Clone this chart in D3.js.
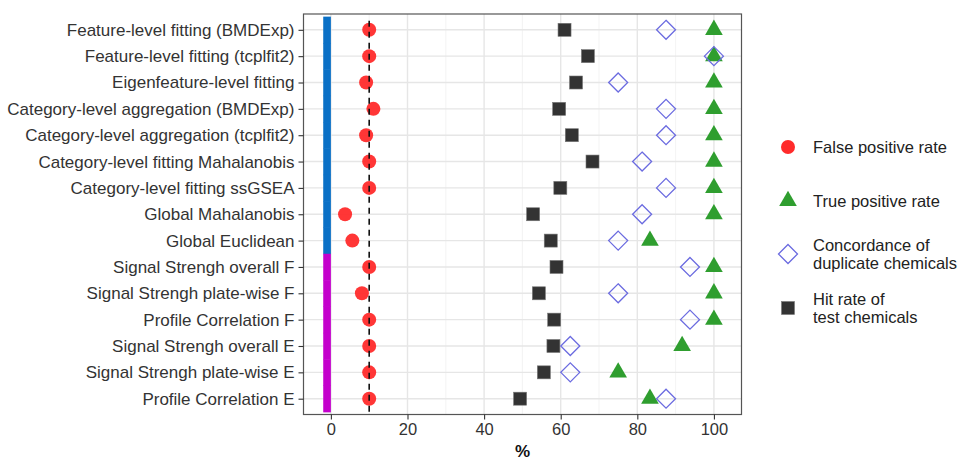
<!DOCTYPE html>
<html>
<head>
<meta charset="utf-8">
<script src="https://cdn.jsdelivr.net/npm/d3@7"></script>
<style>
  body { margin: 0; background: #fff; }
  text { font-family: "Liberation Sans", Arial, sans-serif; }
</style>
</head>
<body>
<svg id="chart" width="963" height="460"></svg>
<script>
const methods = [
  'Feature-level fitting (BMDExp)',
  'Feature-level fitting (tcplfit2)',
  'Eigenfeature-level fitting',
  'Category-level aggregation (BMDExp)',
  'Category-level aggregation (tcplfit2)',
  'Category-level fitting Mahalanobis',
  'Category-level fitting ssGSEA',
  'Global Mahalanobis',
  'Global Euclidean',
  'Signal Strengh overall F',
  'Signal Strengh plate-wise F',
  'Profile Correlation F',
  'Signal Strengh overall E',
  'Signal Strengh plate-wise E',
  'Profile Correlation E'
];
const groupOf = ['A','A','A','A','A','A','A','A','A','B','B','B','B','B','B'];
const falsePositive = [10, 10, 9.2, 11.1, 9.2, 10, 10, 3.7, 5.6, 10, 8.1, 10, 10, 10, 10];
const truePositive = [100, 100, 100, 100, 100, 100, 100, 100, 83.3, 100, 100, 100, 91.7, 75, 83.3];
const concordance = [87.5, 100, 75, 87.5, 87.5, 81.25, 87.5, 81.25, 75, 93.75, 75, 93.75, 62.5, 62.5, 87.5];
const hitRate = [61.0, 67.1, 64.0, 59.6, 62.9, 68.3, 59.9, 52.8, 57.4, 58.9, 54.3, 58.3, 58.1, 55.6, 49.4];
const xTicks = [0, 20, 40, 60, 80, 100];
const xMinor = [10, 30, 50, 70, 90];
const threshold = 10;
const legendLabels = [
  ['False positive rate'],
  ['True positive rate'],
  ['Concordance of', 'duplicate chemicals'],
  ['Hit rate of', 'test chemicals']
];

const pLeft = 303.5, pRight = 741.5, pTop = 14, pBottom = 414.5;
const svg = d3.select('#chart');

const x = d3.scaleLinear()
  .domain([-7.15, 107.2])
  .range([pLeft, pRight]);

const y = d3.scalePoint()
  .domain(methods)
  .range([pTop, pBottom])
  .padding(0.6);
const step = y.step();

// grid
const grid = svg.append('g');
grid.selectAll('.minor').data(xMinor).enter().append('line')
  .attr('x1', d => x(d)).attr('x2', d => x(d))
  .attr('y1', pTop).attr('y2', pBottom)
  .attr('stroke', '#f0f0f0').attr('stroke-width', 0.8);
grid.selectAll('.major').data(xTicks).enter().append('line')
  .attr('x1', d => x(d)).attr('x2', d => x(d))
  .attr('y1', pTop).attr('y2', pBottom)
  .attr('stroke', '#e6e6e6').attr('stroke-width', 1.4);
grid.selectAll('.hmajor').data(methods).enter().append('line')
  .attr('x1', pLeft).attr('x2', pRight)
  .attr('y1', d => y(d)).attr('y2', d => y(d))
  .attr('stroke', '#e6e6e6').attr('stroke-width', 1.4);

// group bars
const groupColor = { A: '#0a70c6', B: '#c400cc' };
svg.append('g').selectAll('rect').data(methods).enter().append('rect')
  .attr('x', x(-2))
  .attr('width', x(0) - x(-2))
  .attr('y', d => y(d) - step / 2)
  .attr('height', step + 0.5)
  .attr('fill', (d, i) => groupColor[groupOf[i]]);

// hit rate squares
svg.append('g').selectAll('rect').data(methods).enter().append('rect')
  .attr('x', (d, i) => x(hitRate[i]) - 6.5)
  .attr('y', d => y(d) - 6.5)
  .attr('width', 13).attr('height', 13)
  .attr('fill', '#333333')
  .attr('stroke', '#777').attr('stroke-width', 0.6);

// true positive triangles
const tri = d3.symbol().type(d3.symbolTriangle).size(135);
svg.append('g').selectAll('path').data(methods).enter().append('path')
  .attr('d', tri)
  .attr('transform', (d, i) => `translate(${x(truePositive[i])},${y(d)})`)
  .attr('fill', '#2f9e2f');

// concordance diamonds
const diamond = 'M0,-9.5L9.5,0L0,9.5L-9.5,0Z';
svg.append('g').selectAll('path').data(methods).enter().append('path')
  .attr('d', diamond)
  .attr('transform', (d, i) => `translate(${x(concordance[i])},${y(d)})`)
  .attr('fill', 'none')
  .attr('stroke', '#6b6be0').attr('stroke-width', 1.3);

// false positive circles
svg.append('g').selectAll('circle').data(methods).enter().append('circle')
  .attr('cx', (d, i) => x(falsePositive[i]))
  .attr('cy', d => y(d))
  .attr('r', 7)
  .attr('fill', '#ff2b2b')
  .attr('fill-opacity', 0.95);

// threshold line
svg.append('line')
  .attr('x1', x(threshold)).attr('x2', x(threshold))
  .attr('y1', y(methods[0]) - step / 2 + 4)
  .attr('y2', y(methods[methods.length - 1]) + step / 2)
  .attr('stroke', '#111').attr('stroke-width', 1.6)
  .attr('stroke-dasharray', '6,5');

// panel border
svg.append('rect')
  .attr('x', pLeft).attr('y', pTop)
  .attr('width', pRight - pLeft).attr('height', pBottom - pTop)
  .attr('fill', 'none').attr('stroke', '#555').attr('stroke-width', 1.2);

// axes
const xAxis = svg.append('g')
  .attr('transform', `translate(0,${pBottom})`)
  .call(d3.axisBottom(x).tickValues(xTicks).tickSize(5).tickPadding(4).tickFormat(d3.format('d')));
const yAxis = svg.append('g')
  .attr('transform', `translate(${pLeft},0)`)
  .call(d3.axisLeft(y).tickSize(5).tickPadding(4));
[xAxis, yAxis].forEach(a => {
  a.select('.domain').remove();
  a.selectAll('.tick line').attr('stroke', '#333').attr('stroke-width', 1.1);
  a.selectAll('.tick text')
    .attr('fill', '#333')
    .style('font-size', '16.5px')
    .style('font-family', '"Liberation Sans", Arial, sans-serif');
});
yAxis.selectAll('.tick text').style('font-size', '17px');

svg.append('text')
  .attr('x', (pLeft + pRight) / 2)
  .attr('y', 457)
  .attr('text-anchor', 'middle')
  .style('font-size', '17px')
  .style('font-weight', 'bold')
  .attr('fill', '#111')
  .text('%');

// legend
const legendY = [147, 201, 254, 308];
const legend = svg.append('g');
const lx = 788, tx = 813;
legend.append('circle').attr('cx', lx).attr('cy', legendY[0]).attr('r', 7).attr('fill', '#ff2b2b');
legend.append('path').attr('d', tri).attr('transform', `translate(${lx},${legendY[1]})`).attr('fill', '#2f9e2f');
legend.append('path').attr('d', diamond).attr('transform', `translate(${lx},${legendY[2]})`)
  .attr('fill', 'none').attr('stroke', '#6b6be0').attr('stroke-width', 1.3);
legend.append('rect').attr('x', lx - 6.5).attr('y', legendY[3] - 6.5).attr('width', 13).attr('height', 13)
  .attr('fill', '#333333').attr('stroke', '#777').attr('stroke-width', 0.6);

legendLabels.forEach((lines, i) => {
  const t = legend.append('text')
    .attr('x', tx)
    .attr('y', legendY[i] - (lines.length - 1) * 8.8)
    .attr('fill', '#222')
    .style('font-size', '16.5px');
  lines.forEach((l, j) => {
    t.append('tspan')
      .attr('x', tx)
      .attr('dy', j === 0 ? '0.35em' : 17.6)
      .text(l);
  });
});
</script>
</body>
</html>
